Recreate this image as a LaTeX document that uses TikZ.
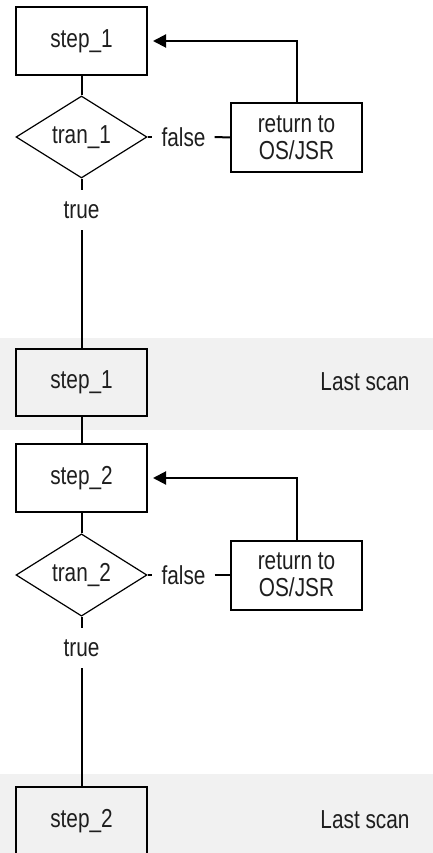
\documentclass[tikz,border=0pt]{standalone}
\usepackage{fontspec}
\setmainfont{Liberation Sans}[FakeStretch=0.8]
\usetikzlibrary{arrows.meta,shapes.geometric}
\definecolor{bandgray}{RGB}{241,241,241}
\definecolor{inkgray}{RGB}{30,30,30}
\tikzset{
  every node/.style={font=\fontsize{26}{27}\selectfont, text=inkgray},
  stepbox/.style={draw, line width=2pt, minimum width=131pt, minimum height=68pt, inner sep=0pt},
  tranbox/.style={draw, diamond, line width=1.2pt, minimum width=131pt, minimum height=80pt, inner sep=0pt},
  retbox/.style={stepbox, minimum height=69pt, align=center},
  lbl/.style={inner sep=0pt},
  flow/.style={line width=2pt},
  back/.style={flow, -{Triangle[length=13pt,width=13pt]}, shorten >=5pt},
}
\begin{document}
\begin{tikzpicture}[x=1pt, y=-1pt]
    \useasboundingbox (0,0) rectangle (433,853);
    \clip (0,0) rectangle (433,853);
    % Last scan bands
    \fill[bandgray] (0,338) rectangle (433,430);
    \fill[bandgray] (0,774) rectangle (433,860);
    % First step
    \node[stepbox] (s1) at (81.5,41) {step\_1};
    \node[tranbox] (t1) at (81.5,137) {tran\_1};
    \node[lbl, inner xsep=9pt] (f1) at (183.5,137) {false};
    \node[retbox] (r1) at (296.5,137.5) {return to\\OS/JSR};
    \node[lbl, minimum height=40pt] (tr1) at (81.5,210) {true};
    \node[stepbox, minimum height=67pt] (s1b) at (81.5,382.5) {step\_1};
    \node[lbl] (ls1) at (365,382) {Last scan};
    \draw[flow] (s1) -- (t1);
    \draw[flow] (t1.east) -- (f1.west);
    \draw[flow] (f1.east) -- (r1.west);
    \draw[back] (r1.north) |- (s1.east);
    \draw[flow] (t1.south) -- (tr1.north);
    \draw[flow] (tr1.south) -- (s1b.north);
    % Second step
    \node[stepbox] (s2) at (81.5,478) {step\_2};
    \node[tranbox] (t2) at (81.5,575) {tran\_2};
    \node[lbl, inner xsep=9pt] (f2) at (183.5,575) {false};
    \node[retbox] (r2) at (296.5,575) {return to\\OS/JSR};
    \node[lbl, minimum height=40pt] (tr2) at (81.5,648) {true};
    \node[stepbox, minimum height=69pt] (s2b) at (81.5,821.5) {step\_2};
    \node[lbl] (ls2) at (365,820) {Last scan};
    \draw[flow] (s1b) -- (s2);
    \draw[flow] (s2) -- (t2);
    \draw[flow] (t2.east) -- (f2.west);
    \draw[flow] (f2.east) -- (r2.west);
    \draw[back] (r2.north) |- (s2.east);
    \draw[flow] (t2.south) -- (tr2.north);
    \draw[flow] (tr2.south) -- (s2b.north);
\end{tikzpicture}
\end{document}
